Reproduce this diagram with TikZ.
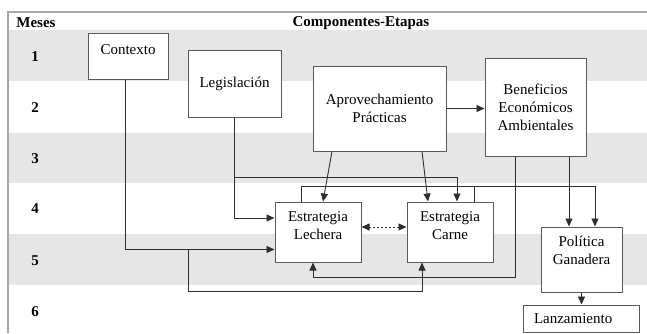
\documentclass[tikz,border=0pt]{standalone}
\usepackage{fontspec}
\setmainfont{Liberation Serif}
\usepackage{tikz}
\usetikzlibrary{arrows.meta, calc}

\definecolor{bandgray}{HTML}{E6E6E6}
\definecolor{framegray}{HTML}{A8A8A8}
\definecolor{boxgray}{HTML}{5A5A5A}
\definecolor{linegray}{HTML}{2E2E2E}

\tikzset{
  etapa/.style={draw=boxgray, fill=white, line width=1pt, align=center, inner sep=3pt,
    font=\fontsize{15}{18}\selectfont},
  flecha/.style={draw=linegray, line width=0.9pt, -{Triangle[length=8pt,width=7pt]}},
  linea/.style={draw=linegray, line width=0.9pt},
  mes/.style={font=\bfseries\fontsize{15}{18}\selectfont}
}

\begin{document}
\begin{tikzpicture}[x=1pt,y=-1pt]
            \useasboundingbox (0,0) rectangle (647,333);
            % Draw the shaded rows of months 1, 3 and 5
            \fill[bandgray] (8,30) rectangle (647,81);
            \fill[bandgray] (8,133) rectangle (647,183);
            \fill[bandgray] (8,234) rectangle (647,285);
            \draw[framegray, line width=1.3pt] (647,12) -- (8,12) -- (8,333);

            % Label the header and the months
            \node[mes] (meses) at (36,23) {Meses};
            \node[mes] (comp) at (361,23) {Componentes-Etapas};
            \foreach \n/\y in {1/57,2/108,3/159,4/209,5/261,6/312}
              \node[mes] (m\n) at (35,\y) {\n};

            % Draw the stages
            \node[etapa, minimum width=80pt, minimum height=46pt, text height=10.5pt, text depth=14.5pt] (ctx) at (128,56) {Contexto};
            \node[etapa, minimum width=93pt, minimum height=67pt] (leg) at (234.5,83.5) {Legislación};
            \node[etapa, minimum width=133pt, minimum height=85pt] (apr) at (379.5,108.5) {Aprovechamiento\\Prácticas};
            \node[etapa, minimum width=101pt, minimum height=98pt] (ben) at (535.5,107) {Beneficios\\Económicos\\Ambientales};
            \node[etapa, minimum width=86pt, minimum height=60pt, text depth=12.5pt] (lec) at (318,232) {Estrategia\\Lechera};
            \node[etapa, minimum width=86pt, minimum height=60pt, text depth=12.5pt] (car) at (450,232) {Estrategia\\Carne};
            \node[etapa, minimum width=81pt, minimum height=65pt, text depth=17.5pt] (pol) at (581.5,259.5) {Política\\Ganadera};
            \node[etapa, minimum width=116pt, minimum height=27pt, text width=94pt, inner xsep=11pt, align=left] (lan) at (581,318.5) {Lanzamiento};
            \coordinate (rama) at (188,249.5);

            % Draw the connectors
            \draw[flecha] ($(ctx.south)+(-3,0)$) |- ($(lec.west)+(0,17.5)$);
            \draw[flecha] (rama) -- ++(0,41.5) -| ($(car.south)+(-28,0)$);
            \draw[flecha] (leg.south) |- ($(lec.west)+(0,-14)$);
            \draw[flecha] ($(leg.south)+(0,60)$) -| ($(car.north)+(7,0)$);
            \draw[flecha] ($(apr.south)+(-47.5,0)$) -- ($(lec.north)+(5,0)$);
            \draw[flecha] ($(apr.south)+(42.5,0)$) -- ($(car.north)+(-22,0)$);
            \draw[flecha] (apr.east) -- (apr.east -| ben.west);
            \draw[flecha] ($(lec.north)+(-17,0)$) -- ++(0,-15) -| ($(pol.north)+(13.5,0)$);
            \draw[linea] ($(car.north)+(24,0)$) -- ++(0,-15);
            \draw[flecha] ($(ben.south)+(-20.5,0)$) -- ++(0,120.5) -| ($(lec.south)+(-5,0)$);
            \draw[flecha] ($(ben.south)+(33.5,0)$) -- ($(pol.north)+(-12.5,0)$);
            \draw[flecha] (pol.south) -- (pol.south |- lan.north);
            \draw[linea, dash pattern=on 2pt off 2pt, {Triangle[length=8pt,width=7pt]}-{Triangle[length=8pt,width=7pt]}] ($(lec.east)+(0,-5)$) -- ($(car.west)+(0,-5)$);
        \end{tikzpicture}
\end{document}
